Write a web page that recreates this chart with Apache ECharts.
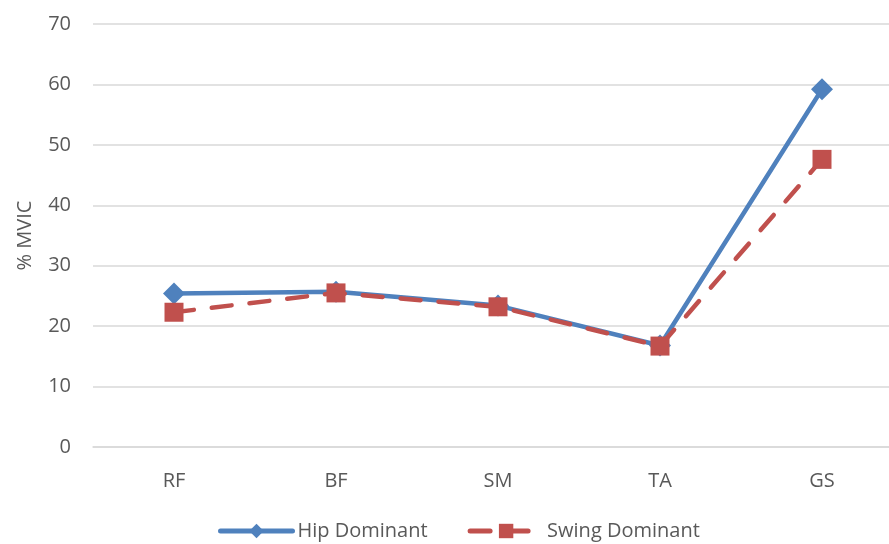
<!DOCTYPE html>
<html>
<head>
<meta charset="utf-8">
<script src="https://cdn.jsdelivr.net/npm/echarts@6/dist/echarts.min.js"></script>
<style>
  html, body { margin: 0; padding: 0; background: #fff; }
  #chart { width: 889px; height: 544px; }
</style>
</head>
<body>
<div id="chart"></div>
<script>
// muscles on x axis
var categories = ['RF', 'BF', 'SM', 'TA', 'GS'];
// % MVIC values
var hipDominant = [25.4, 25.7, 23.4, 16.8, 59.2];
var swingDominant = [22.3, 25.5, 23.2, 16.7, 47.6];

var myChart = echarts.init(document.getElementById('chart'));
var txt = { color: '#595959', fontFamily: 'Open Sans', fontSize: 20 };

myChart.setOption({
  animation: false,
  grid: {
    left: 93,
    top: 24,
    width: 810,   // last gridline runs past the right edge in the original
    height: 423,
    outerBoundsMode: 'none'
  },
  legend: {
    bottom: -2,
    left: 213,
    itemWidth: 72,
    itemHeight: 18,
    itemGap: 40,
    textStyle: txt,
    lineStyle: { width: 5 },
    data: ['Hip Dominant', 'Swing Dominant']
  },
  xAxis: {
    type: 'category',
    data: categories,
    boundaryGap: true,
    axisLine: { lineStyle: { color: '#d9d9d9', width: 1.5 } },
    axisTick: { show: false },
    axisLabel: Object.assign({ margin: 24 }, txt)
  },
  yAxis: {
    type: 'value',
    min: 0,
    max: 70,
    interval: 10,
    name: '% MVIC',
    nameLocation: 'middle',
    nameGap: 58,
    nameTextStyle: txt,
    axisLine: { show: false },
    axisTick: { show: false },
    axisLabel: Object.assign({ margin: 22 }, txt),
    splitLine: { lineStyle: { color: '#d9d9d9', width: 1.5 } }
  },
  series: [
    {
      name: 'Hip Dominant',
      type: 'line',
      data: hipDominant,
      symbol: 'diamond',
      symbolSize: 22,
      itemStyle: { color: '#4f81bd' },
      lineStyle: { color: '#4f81bd', width: 4.5, cap: 'round' },
      z: 2
    },
    {
      name: 'Swing Dominant',
      type: 'line',
      data: swingDominant,
      symbol: 'rect',
      symbolSize: 19,
      itemStyle: { color: '#c0504d' },
      lineStyle: { color: '#c0504d', width: 4.5, type: [20, 18], cap: 'round' },
      z: 3
    }
  ]
});
</script>
</body>
</html>
